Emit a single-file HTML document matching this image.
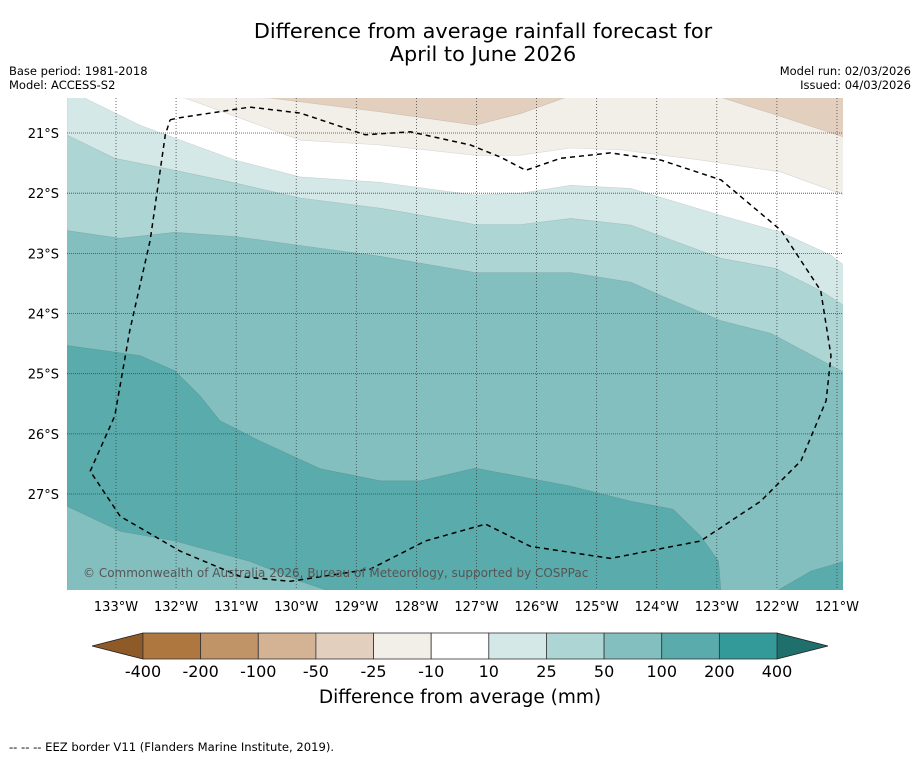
<!DOCTYPE html>
<html><head><meta charset="utf-8"><style>
body{margin:0;background:#fff;width:919px;height:758px;overflow:hidden;font-family:"DejaVu Sans","Liberation Sans",sans-serif;}
</style></head><body>
<svg id="chart" width="919" height="758" xmlns="http://www.w3.org/2000/svg" font-family="DejaVu Sans, Liberation Sans, sans-serif">
<text x="483" y="38" font-size="20.8" text-anchor="middle">Difference from average rainfall forecast for</text>
<text x="483" y="61" font-size="20.8" text-anchor="middle">April to June 2026</text>
<text x="9" y="75" font-size="11.5">Base period: 1981-2018</text>
<text x="9" y="89" font-size="11.5">Model: ACCESS-S2</text>
<text x="911" y="75" font-size="11.5" text-anchor="end">Model run: 02/03/2026</text>
<text x="911" y="89" font-size="11.5" text-anchor="end">Issued: 04/03/2026</text>
<defs><clipPath id="mapclip"><rect x="67" y="98" width="776" height="492"/></clipPath></defs>
<g id="map" clip-path="url(#mapclip)"></g>
<g id="axes"></g>
<text x="83" y="577" font-size="12" fill="#555">© Commonwealth of Australia 2026, Bureau of Meteorology, supported by COSPPac</text>
<g id="cbar"></g>
<text x="460" y="703" font-size="18.5" text-anchor="middle">Difference from average (mm)</text>
<text x="9" y="751" font-size="11.6">--  --  -- EEZ border V11 (Flanders Marine Institute, 2019).</text>
</svg>
<script>
const NS="http://www.w3.org/2000/svg";
// axis extents (degrees West / degrees South)
const lonTicks=[133,132,131,130,129,128,127,126,125,124,123,122,121];
const latTicks=[21,22,23,24,25,26,27];
const cbarLabels=["-400","-200","-100","-50","-25","-10","10","25","50","100","200","400"];
const cbarColors=["#ae773f","#c19468","#d4b294","#e3cfbd","#f2eee8","#ffffff","#d5e8e8","#acd5d4","#84bfbf","#5aabab","#339999"];
// contour boundaries [lonW, latS]
const line_m50=[[130.43,20.42],[128.6,20.65],[127.02,20.87],[126.27,20.68],[125.43,20.38],[123.02,20.38],[122.02,20.7],[120.88,21.07]];
const line_m25=[[131.85,20.42],[129.93,21.12],[128.6,21.2],[127.02,21.37],[126.27,21.37],[125.43,21.25],[124.6,21.28],[123.27,21.45],[121.93,21.65],[120.88,22.03]];
const line_p10=[[133.52,20.42],[132.6,20.87],[131.02,21.45],[129.93,21.73],[128.6,21.82],[127.02,22.03],[126.27,22.0],[125.43,21.87],[124.43,21.92],[122.93,22.37],[121.93,22.65],[121.1,23.03],[120.88,23.2]];
const line_p25=[[133.82,21.03],[133.02,21.42],[132.02,21.62],[131.02,21.83],[129.93,22.08],[128.6,22.25],[127.02,22.52],[126.27,22.52],[125.43,22.42],[124.43,22.53],[122.93,23.08],[122.02,23.25],[121.27,23.62],[120.88,23.87]];
const line_p50=[[133.82,22.62],[132.93,22.75],[132.02,22.65],[131.02,22.72],[129.93,22.87],[128.6,23.05],[127.02,23.32],[125.43,23.32],[124.43,23.48],[123.93,23.7],[122.93,24.12],[122.1,24.33],[120.88,24.98]];
const line_p100=[[133.82,24.53],[132.6,24.7],[132.02,24.95],[131.6,25.37],[131.27,25.78],[130.6,26.12],[129.6,26.58],[128.6,26.78],[127.93,26.78],[127.02,26.57],[125.43,26.87],[124.43,27.12],[123.73,27.25],[123.27,27.7],[122.97,28.12],[122.93,28.62]];
const line_sw50=[[133.82,27.2],[132.93,27.62],[132.02,27.78],[130.77,28.12],[129.93,28.45],[129.43,28.62]];
const line_se100=[[122.02,28.62],[121.43,28.28],[120.88,28.12]];
const eez=[[132.1,20.78],[131.97,20.75],[130.77,20.57],[129.93,20.67],[128.85,21.03],[128.1,20.98],[127.1,21.2],[126.6,21.4],[126.18,21.62],[125.6,21.42],[124.77,21.33],[123.93,21.45],[122.93,21.78],[121.93,22.62],[121.27,23.62],[121.1,24.7],[121.18,25.45],[121.6,26.45],[122.27,27.12],[123.27,27.78],[124.77,28.07],[126.1,27.87],[126.85,27.5],[127.85,27.78],[128.77,28.25],[130.1,28.45],[130.93,28.37],[131.93,27.95],[132.93,27.37],[133.43,26.62],[133.02,25.7],[132.77,24.28],[132.43,22.78],[132.18,21.03],[132.1,20.78]];

const X0=67,X1=843,Y0=98,Y1=590;
const xs=w=>116+(133-w)*60.08;
const ys=s=>133+(s-21)*60.17;
const pt=p=>xs(p[0]).toFixed(1)+","+ys(p[1]).toFixed(1);
const map=document.getElementById("map");
function poly(pts,fill,name){const e=document.createElementNS(NS,"polygon");e.setAttribute("points",pts.join(" "));e.setAttribute("fill",fill);e.setAttribute("stroke","rgba(0,0,0,0.12)");e.setAttribute("stroke-width","0.6");


map.appendChild(e);}
const bg=document.createElementNS(NS,"rect");bg.setAttribute("x",X0);bg.setAttribute("y",Y0);bg.setAttribute("width",X1-X0);bg.setAttribute("height",Y1-Y0);bg.setAttribute("fill","#e3cfbd");


map.appendChild(bg);
function below(line,fill,name){const pts=[X0+","+(Y0-5)].concat(line.map(pt));pts.push(X1+","+(Y1+5));pts.push(X0+","+(Y1+5));poly(pts,fill,name);}
below(line_m50,"#f2eee8","band-minus25");
below(line_m25,"#ffffff","band-neutral");
below(line_p10,"#d5e8e8","band-10-25");
{const pts=line_p25.map(pt);pts.push(X1+","+(Y1+5));pts.push(X0+","+(Y1+5));poly(pts,"#acd5d4","band-25-50");}
{const pts=line_p50.map(pt);pts.push(X1+","+(Y1+5));pts.push(X0+","+(Y1+5));poly(pts,"#84bfbf","band-50-100");}
{const pts=line_p100.map(pt);pts.push(X0+","+(Y1+5));poly(pts,"#5aabab","band-100-200");}
{const pts=line_sw50.map(pt);pts.push(X0+","+(Y1+5));poly(pts,"#84bfbf","band-50-100-southwest");}
{const pts=line_se100.map(pt);pts.push(X1+","+(Y1+5));poly(pts,"#5aabab","band-100-200-southeast");}
// gridlines
const axes=document.getElementById("axes");
lonTicks.forEach(w=>{const x=xs(w);const l=document.createElementNS(NS,"line");l.setAttribute("x1",x);l.setAttribute("x2",x);l.setAttribute("y1",Y0);l.setAttribute("y2",Y1);l.setAttribute("stroke","#444");l.setAttribute("stroke-width","0.8");l.setAttribute("stroke-dasharray","1,2");


map.appendChild(l);
const t=document.createElementNS(NS,"text");t.setAttribute("x",x);t.setAttribute("y",611);t.setAttribute("font-size","13");t.setAttribute("text-anchor","middle");t.textContent=w+"°W";


axes.appendChild(t);});
latTicks.forEach(s=>{const y=ys(s);const l=document.createElementNS(NS,"line");l.setAttribute("x1",X0);l.setAttribute("x2",X1);l.setAttribute("y1",y);l.setAttribute("y2",y);l.setAttribute("stroke","#444");l.setAttribute("stroke-width","0.8");l.setAttribute("stroke-dasharray","1,1");


map.appendChild(l);
const t=document.createElementNS(NS,"text");t.setAttribute("x",59);t.setAttribute("y",y+5);t.setAttribute("font-size","13");t.setAttribute("text-anchor","end");t.textContent=s+"°S";


axes.appendChild(t);});
// EEZ
const ep=document.createElementNS(NS,"polyline");ep.setAttribute("points",eez.map(pt).join(" "));ep.setAttribute("fill","none");ep.setAttribute("stroke","#000");ep.setAttribute("stroke-width","1.5");ep.setAttribute("stroke-dasharray","5,4");


map.appendChild(ep);
// colorbar
const cb=document.getElementById("cbar");const cx0=143,cx1=777,cy=633,ch=26,sw=(cx1-cx0)/cbarColors.length;
const lt=document.createElementNS(NS,"polygon");lt.setAttribute("points",`92,${cy+ch/2} ${cx0},${cy} ${cx0},${cy+ch}`);lt.setAttribute("fill","#8e5a28");lt.setAttribute("stroke","#222");lt.setAttribute("stroke-width","0.8");


cb.appendChild(lt);
const rt=document.createElementNS(NS,"polygon");rt.setAttribute("points",`828,${cy+ch/2} ${cx1},${cy} ${cx1},${cy+ch}`);rt.setAttribute("fill","#1f6f6c");rt.setAttribute("stroke","#222");rt.setAttribute("stroke-width","0.8");


cb.appendChild(rt);
cbarColors.forEach((c,i)=>{const r=document.createElementNS(NS,"rect");r.setAttribute("x",cx0+i*sw);r.setAttribute("y",cy);r.setAttribute("width",sw);r.setAttribute("height",ch);r.setAttribute("fill",c);r.setAttribute("stroke","#333");r.setAttribute("stroke-width","0.8");


cb.appendChild(r);});
cbarLabels.forEach((s,i)=>{const t=document.createElementNS(NS,"text");t.setAttribute("x",cx0+i*sw);t.setAttribute("y",677);t.setAttribute("font-size","16");t.setAttribute("text-anchor","middle");t.textContent=s;


cb.appendChild(t);});
</script>
</body></html>
